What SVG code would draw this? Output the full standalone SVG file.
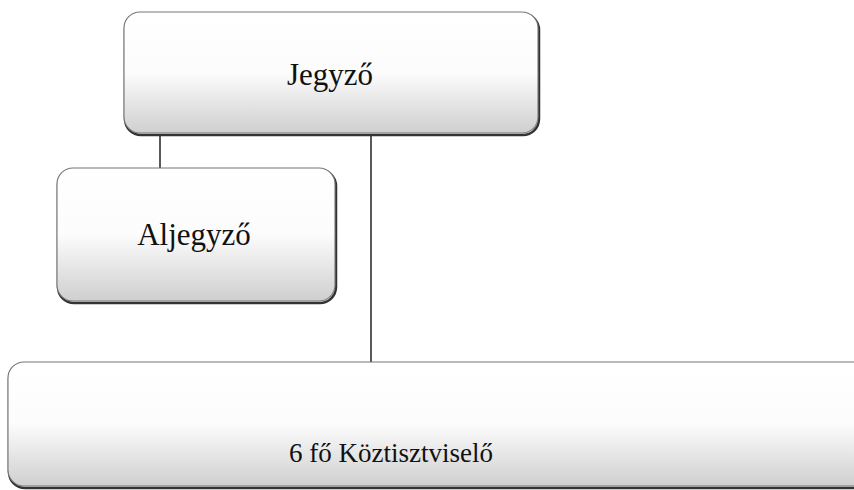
<svg xmlns="http://www.w3.org/2000/svg" width="854" height="490" viewBox="0 0 854 490">
<defs>
<linearGradient id="g" x1="0" y1="0" x2="0" y2="1">
<stop offset="0" stop-color="#ffffff"/>
<stop offset="0.5" stop-color="#fcfcfc"/>
<stop offset="1" stop-color="#cfcfcf"/>
</linearGradient>
</defs>
<style>
.box{fill:url(#g);stroke:#777;stroke-width:1.1}
.sh{fill:none;stroke:#333;stroke-width:2.5}
.t{font-family:"Liberation Serif",serif;fill:#111;text-anchor:middle}
.c{stroke:#222;stroke-width:1.5;fill:none}
</style>
<rect width="854" height="490" fill="#fff"/>
<g id="connectors">
<line class="c" x1="160" y1="134" x2="160" y2="169"/>
<line class="c" x1="371" y1="134" x2="371" y2="362"/>
</g>
<g id="jegyzo">
<rect class="sh" x="125" y="14" width="414" height="121" rx="16"/>
<rect class="box" x="124" y="12" width="414" height="121" rx="16"/>
<text class="t" x="330" y="85" font-size="31">Jegyző</text>
</g>
<g id="aljegyzo">
<rect class="sh" x="58" y="170" width="278" height="133" rx="16"/>
<rect class="box" x="57" y="168" width="278" height="133" rx="16"/>
<text class="t" x="194" y="245" font-size="31">Aljegyző</text>
</g>
<g id="koztisztviselo">
<rect class="sh" x="9" y="364" width="870" height="124" rx="16"/>
<rect class="box" x="8" y="362" width="870" height="124" rx="16"/>
<text class="t" x="391" y="462" font-size="27">6 fő Köztisztviselő</text>
</g>
</svg>
